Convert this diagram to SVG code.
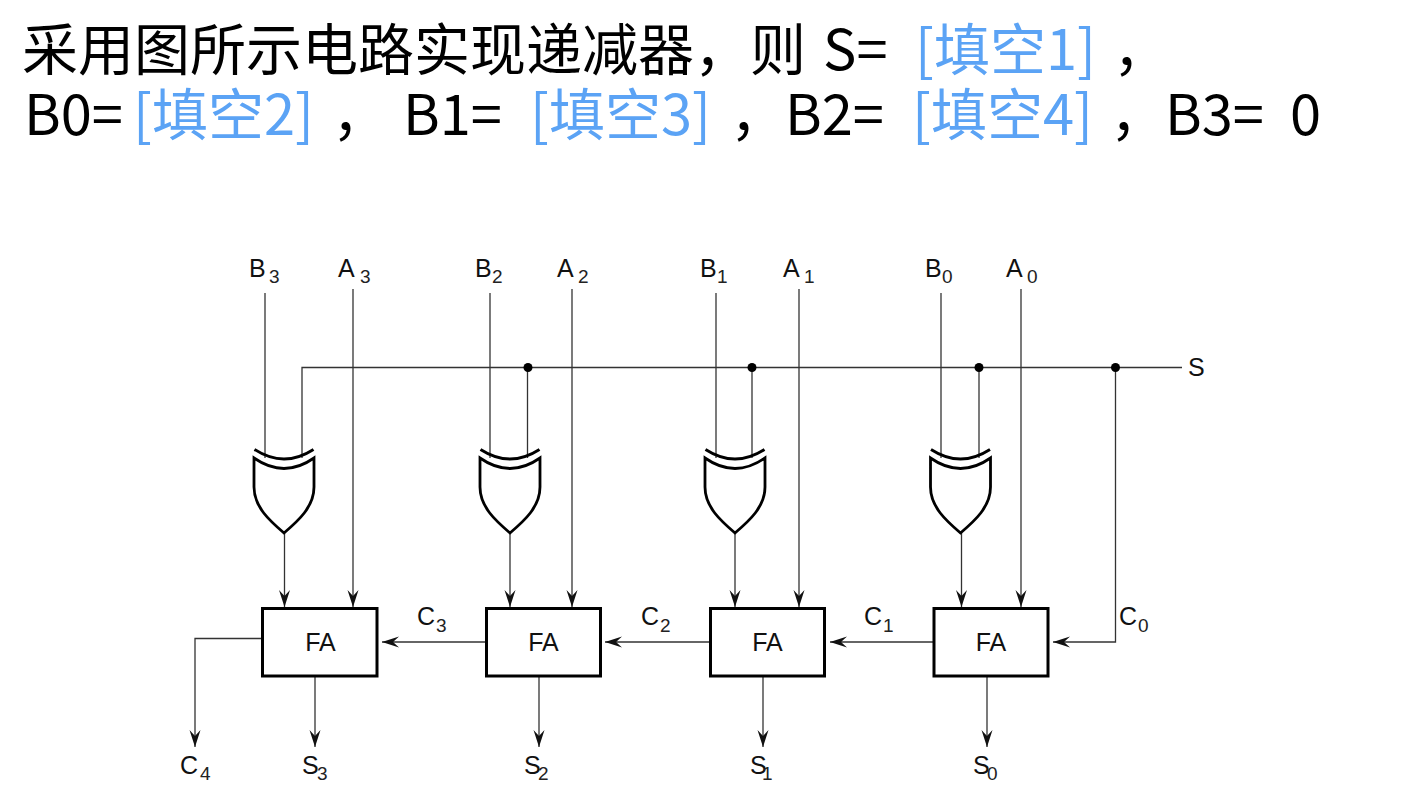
<svg xmlns="http://www.w3.org/2000/svg" width="1403" height="798" viewBox="0 0 1403 798">
<style>
.t{font-family:"Noto Sans CJK SC","Noto Sans",sans-serif;font-size:56px;fill:#000}
.b{fill:#5ba3f5}
.l{font-family:"Liberation Sans",Arial,sans-serif;font-size:25px;fill:#111}
.s{font-family:"Liberation Sans",Arial,sans-serif;font-size:19px;fill:#222}
.w{fill:none;stroke:#333;stroke-width:1.3}
.a{marker-end:url(#ah)}
.g{fill:none;stroke:#000;stroke-width:2.8}
.box{fill:none;stroke:#000;stroke-width:3}
.d{fill:#000}
</style>
<defs>
<marker id="ah" markerUnits="userSpaceOnUse" markerWidth="18" markerHeight="12" refX="17" refY="6" orient="auto"><path d="M17,6 L0,0.5 L6,6 L0,11.5 Z" fill="#111"/></marker>
<g id="xor"><path class="g" d="M-29.500,-9.500 Q0,9.500 29.500,-9.500"/><path class="g" d="M-30,-1 Q0,20 30,-1 V28 C30,48 14,62 0,74 C-14,62 -30,48 -30,28 Z"/></g>
</defs>
<rect width="1403" height="798" fill="#fff"/>
<g id="title">
<text class="t" x="22" y="70">采用图所示电路实现递减器，则</text>
<text class="t" x="823" y="70">S=</text>
<text class="t b" x="915" y="70">[填空1]</text>
<text class="t" x="1113" y="70">，</text>
<text class="t" x="24" y="135">B0=</text>
<text class="t b" x="133" y="135">[填空2]</text>
<text class="t" x="332" y="135">，</text>
<text class="t" x="403" y="135">B1=</text>
<text class="t b" x="530" y="135">[填空3]</text>
<text class="t" x="730" y="135">，</text>
<text class="t" x="785" y="135">B2=</text>
<text class="t b" x="912" y="135">[填空4]</text>
<text class="t" x="1110" y="135">，</text>
<text class="t" x="1165" y="135">B3=</text>
<text class="t" x="1290" y="135">0</text>
</g>
<g id="connectors">
<path class="w" d="M302,449 V367.500 H1182"/>
<path class="w" d="M265,293 V458"/><path class="w" d="M490,293 V458"/><path class="w" d="M716,293 V458"/><path class="w" d="M941,293 V458"/>
<path class="w" d="M527.500,367.500 V458"/><path class="w" d="M752,367.500 V458"/><path class="w" d="M979,367.500 V458"/>
<path class="w" d="M302,449 V458"/>
<path class="w a" d="M353,289 V607"/><path class="w a" d="M572,289 V607"/><path class="w a" d="M799,289 V607"/><path class="w a" d="M1021,289 V607"/>
<path class="w a" d="M284.500,533 V607"/><path class="w a" d="M510,533 V607"/><path class="w a" d="M735,533 V607"/><path class="w a" d="M961.500,533 V607"/>
<path class="w a" d="M486,642 H382"/><path class="w a" d="M710,642 H605"/><path class="w a" d="M934,642 H830"/>
<path class="w a" d="M1115.500,367.500 V642 H1053"/>
<path class="w a" d="M262,638.500 H195 V747"/>
<path class="w a" d="M315,676 V747"/><path class="w a" d="M539,676 V747"/><path class="w a" d="M763,676 V747"/><path class="w a" d="M987,676 V747"/>
<circle class="d" cx="528" cy="367.500" r="4.500"/><circle class="d" cx="752" cy="367.500" r="4.500"/><circle class="d" cx="979" cy="367.500" r="4.500"/><circle class="d" cx="1115.500" cy="367.500" r="4.500"/>
</g>
<g id="xor3"><use href="#xor" x="284" y="459"/></g>
<g id="xor2"><use href="#xor" x="510" y="459"/></g>
<g id="xor1"><use href="#xor" x="735" y="459"/></g>
<g id="xor0"><use href="#xor" x="960.500" y="459"/></g>
<g id="fa3"><rect class="box" x="262.500" y="608.500" width="114.500" height="67.500"/><text class="l" x="320.500" y="651" text-anchor="middle">FA</text></g>
<g id="fa2"><rect class="box" x="486.500" y="608.500" width="114" height="67.500"/><text class="l" x="543.500" y="651" text-anchor="middle">FA</text></g>
<g id="fa1"><rect class="box" x="710.500" y="608.500" width="114" height="67.500"/><text class="l" x="767.500" y="651" text-anchor="middle">FA</text></g>
<g id="fa0"><rect class="box" x="934" y="608.500" width="114" height="67.500"/><text class="l" x="991" y="651" text-anchor="middle">FA</text></g>
<g id="labels">
<text class="l" x="249" y="277">B</text><text class="s" x="269" y="283">3</text>
<text class="l" x="338" y="277">A</text><text class="s" x="360" y="283">3</text>
<text class="l" x="475" y="277">B</text><text class="s" x="492" y="283">2</text>
<text class="l" x="557" y="277">A</text><text class="s" x="578" y="283">2</text>
<text class="l" x="700" y="277">B</text><text class="s" x="717" y="283">1</text>
<text class="l" x="783" y="277">A</text><text class="s" x="804" y="283">1</text>
<text class="l" x="925" y="277">B</text><text class="s" x="942" y="283">0</text>
<text class="l" x="1006" y="277">A</text><text class="s" x="1027" y="283">0</text>
<text class="l" x="1188" y="376">S</text>
<text class="l" x="417" y="625">C</text><text class="s" x="436" y="632">3</text>
<text class="l" x="641" y="625">C</text><text class="s" x="660" y="632">2</text>
<text class="l" x="864" y="625">C</text><text class="s" x="883" y="632">1</text>
<text class="l" x="1119" y="625">C</text><text class="s" x="1138" y="632">0</text>
<text class="l" x="180" y="774">C</text><text class="s" x="200" y="780">4</text>
<text class="l" x="302" y="774">S</text><text class="s" x="317" y="780">3</text>
<text class="l" x="524" y="774">S</text><text class="s" x="538" y="780">2</text>
<text class="l" x="750" y="774">S</text><text class="s" x="762" y="780">1</text>
<text class="l" x="973" y="774">S</text><text class="s" x="987" y="780">0</text>
</g>
</svg>
